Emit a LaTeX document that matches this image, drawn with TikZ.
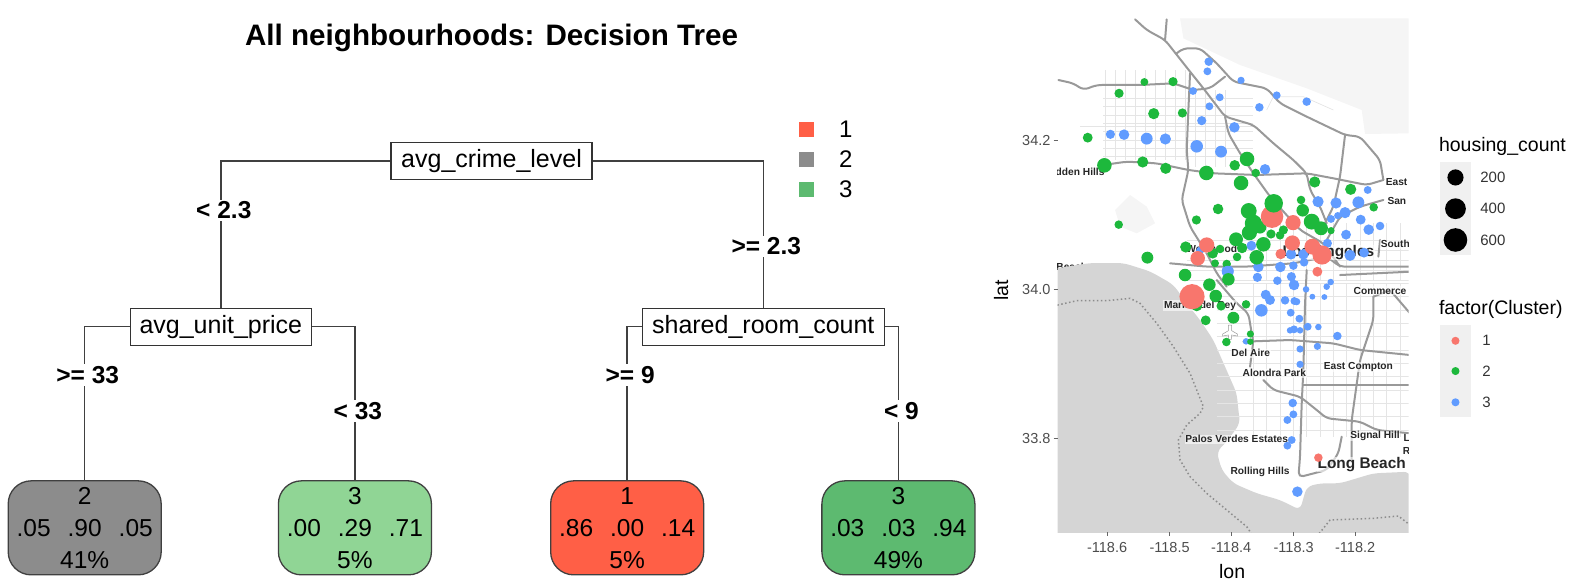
\documentclass[tikz,border=0pt]{standalone}
\usepackage{fontspec}
\setmainfont{Liberation Sans}
\definecolor{leafgrey}{HTML}{8C8C8C}
\definecolor{leaflight}{HTML}{90D595}
\definecolor{leafred}{HTML}{FF5F46}
\definecolor{leafgreen}{HTML}{5DBA70}
\definecolor{dotred}{HTML}{F8766D}
\definecolor{dotgreen}{HTML}{1DB83C}
\definecolor{dotblue}{HTML}{619CFF}
\definecolor{waterfill}{HTML}{D5D5D5}
\tikzset{
  splitbox/.style={rectangle, draw=black!80, line width=1.3pt, fill=white, font=\fontsize{25}{28}\selectfont, minimum height=37, inner sep=0, text height=18, text depth=5},
  leafbox/.style={rectangle, draw=black!75, line width=1.3pt, rounded corners=23, minimum width=153, minimum height=94, inner sep=0, align=center, font=\fontsize{24.5}{32}\selectfont},
  splitline/.style={draw=black!75, line width=1.4pt},
  splitlabel/.style={fill=white, inner sep=2, xshift=3, font=\fontsize{24.5}{26}\selectfont\bfseries},
  legendkey/.style={rectangle, minimum size=15, inner sep=0},
  legendtext/.style={font=\fontsize{24}{26}\selectfont, anchor=west, inner sep=0},
  road/.style={draw=black!40, line width=2pt, line join=round, line cap=round, rounded corners=5pt},
  street/.style={draw=black!10, line width=0.7pt},
  boundary/.style={draw=black!45, line width=1.5pt, dash pattern=on 1.5pt off 2.5pt},
  placename/.style={font=\fontsize{10.2}{11}\selectfont\bfseries, inner sep=0.6, text=black!85, fill=white, fill opacity=0.6, text opacity=1},
  axistext/.style={font=\fontsize{14.5}{15}\selectfont, text=black!70, inner sep=0},
  axistitle/.style={font=\fontsize{19.5}{21}\selectfont, inner sep=0},
  keytext/.style={font=\fontsize{15}{16}\selectfont, text=black!80, anchor=west, inner sep=0},
}
\newcommand{\mapdots}[2]{\foreach \dotx/\doty/\dotr in {#2} \fill[#1] (\dotx,\doty) circle ({\dotr+0.8});}
\begin{document}
\begin{tikzpicture}[x=1.00827pt, y=-1.00827pt]
  \useasboundingbox (0,0) rectangle (1568,580.2);

  % decision tree
  \node (title) [inner sep=0, font=\fontsize{29.6}{32}\selectfont\bfseries] at (487.5,38) {All neighbourhoods: Decision Tree};
  \node (root) [splitbox, minimum width=201] at (487.5,159.5) {avg\_crime\_level};
  \node (unit) [splitbox, minimum width=181] at (219,324) {avg\_unit\_price};
  \node (shared) [splitbox, minimum width=242] at (757,324) {shared\_room\_count};
  \node (leafa) [leafbox, fill=leafgrey] at (84,523.5) {2\\.05\hspace{17pt}.90\hspace{17pt}.05\\41\%};
  \node (leafb) [leafbox, fill=leaflight] at (352,523.5) {3\\.00\hspace{17pt}.29\hspace{17pt}.71\\5\%};
  \node (leafc) [leafbox, fill=leafred] at (622,523.5) {1\\.86\hspace{17pt}.00\hspace{17pt}.14\\5\%};
  \node (leafd) [leafbox, fill=leafgreen] at (891,523.5) {3\\.03\hspace{17pt}.03\hspace{17pt}.94\\49\%};

  \draw[splitline] (root.west) -| node [splitlabel, pos=0.669] {< 2.3} (unit.north);
  \draw[splitline] (root.east) -| node [splitlabel, pos=0.792] {>= 2.3} (shared.north);
  \draw[splitline] (unit.west) -| node [splitlabel, pos=0.657] {>= 33} (leafa.north);
  \draw[splitline] (unit.east) -| node [splitlabel, pos=0.775] {< 33} (leafb.north);
  \draw[splitline] (shared.west) -| node [splitlabel, pos=0.657] {>= 9} (leafc.north);
  \draw[splitline] (shared.east) -| node [splitlabel, pos=0.775] {< 9} (leafd.north);

  \node (keya) [legendkey, fill=leafred] at (800,128) {};
  \node (keyb) [legendkey, fill=leafgrey] at (800,158) {};
  \node (keyc) [legendkey, fill=leafgreen] at (800,188) {};
  \node (keyatext) [legendtext] at (832,128) {1};
  \node (keybtext) [legendtext] at (832,158) {2};
  \node (keyctext) [legendtext] at (832,188) {3};

  % map panel
  \begin{scope}
    \clip (1049,18) rectangle (1397,528);
    \begin{scope}[shift={(1031.5,9.92)}, x=0.3333pt, y=-0.3333pt]
      \fill[black!4] (420,25) -- (1110,25) -- (1110,370) -- (975,372) -- (965,300) -- (800,235) -- (600,165) -- (430,85) -- cycle;
      \fill[black!4] (270,555) -- (320,590) -- (345,640) -- (290,670) -- (240,650) -- (225,600) -- cycle;
      \foreach \sy in {265,290,...,440} \draw[street] (190,\sy) -- (640,\sy);
      \draw[street] (120,350) -- (640,350);
      \foreach \sx in {195,225,...,435} \draw[street] (\sx,180) -- (\sx,450);
      \foreach \sx in {465,495,...,555} \draw[street] (\sx,240) -- (\sx,470);
      \foreach \sy in {690,720,...,810} \draw[street] (440,\sy) -- (1110,\sy);
      \foreach \sx in {680,720,...,1100} \draw[street] (\sx,640) -- (\sx,810);
      \draw[street] (680,300) -- (700,260) -- (790,260) -- (880,300);
      \draw[road] (285,28) -- (320,60) -- (375,90) -- (450,185) -- (490,235) -- (555,320) -- (640,345) -- (700,400) -- (760,450) -- (800,490) -- (810,540) -- (840,590) -- (860,640);
      \draw[road] (380,28) -- (375,90);
      \draw[road] (450,190) -- (445,300) -- (440,420) -- (445,480) -- (425,570) -- (450,650) -- (500,730) -- (530,790) -- (560,830);
      \draw[road] (555,320) -- (565,370) -- (600,430) -- (640,490) -- (690,560) -- (780,660) -- (850,700) -- (900,770);
      \draw[road] (55,210) -- (100,220) -- (130,240) -- (170,225) -- (300,225) -- (400,220) -- (460,240) -- (510,235) -- (555,200);
      \draw[road] (410,130) -- (430,115) -- (480,115) -- (530,160) -- (580,215) -- (680,235) -- (720,280) -- (800,320) -- (915,375) -- (960,380) -- (1020,450) -- (1030,510);
      \draw[road] (190,465) -- (260,455) -- (350,460) -- (445,480) -- (520,490) -- (650,495) -- (800,490) -- (880,505) -- (980,525) -- (1030,510);
      \draw[road] (915,375) -- (900,500) -- (880,590) -- (850,650);
      \draw[road] (860,690) -- (900,620) -- (960,590) -- (1030,570);
      \draw[road] (390,760) -- (500,770) -- (620,770) -- (760,760) -- (860,740) -- (900,770) -- (1110,770);
      \draw[road] (1020,690) -- (1015,740);
      \node (dden) [placename] at (120,485) {dden Hills};
      \node (beach) [placename] at (95,770) {Beach};
      \node (east) [placename, anchor=west] at (1035,516) {East};
      \node (sani) [placename, anchor=west] at (1040,572) {San I};
      \node (south) [placename, anchor=west] at (1020,703) {South};
      \node (westwood) [placename] at (515,717) {Westwood};
      \node (losangeles) [placename, font=\fontsize{15.4}{16}\selectfont\bfseries] at (865,727) {Los Angeles};
      \mapdots{dotblue}{506/155/12,502/184/11,603/211/10,459/243/11,539/262/11,508/289/11,658/292/12,710/256/11,800/275/12,485/332/13,583/352/15,211/373/13,252/374/15,320/386/17,376/387/16,470/409/18,543/425/17,675/478/15,834/575/16,888/579/16,955/577/17,983/540/11,915/608/16,893/617/10,873/627/11,962/629/14,986/659/15,1020/648/12,918/674/14,862/700/13,930/736/16,972/728/14,634/707/14,480/722/11,753/733/15,790/733/15,792/757/12,655/771/15,721/771/15,760/767/12,563/783/17}
      \mapdots{dotgreen}{313/216/11,399/215/13,237/250/13,341/311/16,427/309/13,143/383/14,193/466/21,308/456/16,377/475/16,499/489/21,584/466/15,621/447/21,647/489/12,603/519/21,824/516/16,932/538/16,1001/592/12,783/570/12,788/601/18,534/597/15,626/603/23,469/630/13,236/644/12,815/635/23,843/655/20,873/662/10,730/660/13,720/676/12,640/640/25,660/652/18,628/668/22,693/672/13,588/688/20,606/714/15,670/703/21,437/711/16,540/717/12,518/730/15,591/741/12,650/742/21,322/743/17,525/760/11,560/762/12}
      \mapdots{dotred}{696/620/33,759/638/22,757/699/22,817/710/23,846/735/28,722/732/15,500/705/22,473/745/21}
      \mapdots{dotgreen}{701/580/27}
    \end{scope}
    \begin{scope}[shift={(1031.5,267.8)}, x=0.3333pt, y=-0.3333pt]
      \fill[waterfill, rounded corners=6pt] (55,-6) -- (150,-21) -- (250,-21) -- (330,4) -- (400,44) -- (440,100) -- (480,150) -- (520,210) -- (555,290) -- (590,370) -- (595,420) -- (600,460) -- (560,515) -- (530,545) -- (545,600) -- (580,640) -- (650,670) -- (720,690) -- (780,720) -- (800,650) -- (840,640) -- (900,640) -- (950,625) -- (1000,610) -- (1110,605) -- (1110,800) -- (40,800) -- (40,-6) -- cycle;
      \draw[boundary] (40,108) -- (110,92) -- (200,92) -- (270,85) -- (300,100) -- (350,160) -- (400,230) -- (450,310) -- (490,410) -- (480,430) -- (440,465) -- (415,510) -- (420,570) -- (450,620) -- (500,670) -- (560,720) -- (620,770) -- (640,800);
      \draw[boundary] (830,800) -- (870,750) -- (1000,745) -- (1075,738) -- (1110,765);
      \foreach \sx in {640,680,...,1080} \draw[street] (\sx,40) -- (\sx,500);
      \foreach \sy in {40,80,...,480} \draw[street] (530,\sy) -- (1110,\sy);
      \draw[road] (530,30) -- (590,100) -- (625,130) -- (635,190) -- (640,212) -- (630,290);
      \draw[road] (610,215) -- (750,210) -- (880,220) -- (960,240) -- (1110,255);
      \draw[road] (800,0) -- (795,100) -- (790,300) -- (785,400) -- (780,560) -- (775,622) -- (860,600) -- (895,550) -- (905,500);
      \draw[road] (1000,80) -- (1000,150) -- (960,270) -- (935,450) -- (935,570);
      \draw[road] (790,345) -- (1110,345);
      \draw[road] (670,330) -- (700,360) -- (780,380) -- (830,420) -- (860,445) -- (960,455) -- (1010,480) -- (1110,490);
      \draw[road] (1000,80) -- (1050,60) -- (1110,130);
      \draw[road] (900,15) -- (1110,5);
      \fill[white, draw=black!40, line width=0.5pt] (565,165) -- (575,165) -- (575,182) -- (592,192) -- (592,198) -- (575,195) -- (574,208) -- (566,208) -- (565,195) -- (548,198) -- (548,192) -- (565,182) -- cycle;
      \node (commerce) [placename] at (1020,62) {Commerce};
      \node (marina) [placename] at (480,107) {Marina del Rey};
      \node (delaire) [placename] at (632,250) {Del Aire};
      \node (alondra) [placename] at (703,310) {Alondra Park};
      \node (compton) [placename] at (955,291) {East Compton};
      \node (palos) [placename] at (590,508) {Palos Verdes Estates};
      \node (signal) [placename] at (1005,498) {Signal Hill};
      \node (lsmall) [placename, anchor=west] at (1088,503) {L};
      \node (rsmall) [placename, anchor=west] at (1086,542) {R};
      \node (longbeach) [placename, font=\fontsize{15.4}{16}\selectfont\bfseries] at (965,583) {Long Beach};
      \node (rolling) [placename] at (660,605) {Rolling Hills};
      \mapdots{dotblue}{563/5/17,652/22/13,754/20/13,712/32/12,762/45/15,872/36/9,860/50/9,798/58/9,817/80/8,853/81/8,677/74/14,690/90/14,735/91/12,763/93/11,770/95/10,664/121/18,752/128/11,778/146/11,803/170/11,835/171/9,750/181/9,762/178/11,780/181/9,892/198/12,618/214/9,832/229/10,780/237/10,780/283/10,758/399/12,760/433/11,742/450/11,755/510/11,742/527/11,772/665/15}
      \mapdots{dotgreen}{435/15/18,565/28/18,508/44/18,527/78/18,470/107/16,543/108/13,618/103/12,580/143/17,497/151/14,631/192/10,631/215/9,559/216/12}
      \mapdots{dotred}{456/80/37,832/5/14,835/563/12}
    \end{scope}
  \end{scope}

  % axes
  \foreach \tickx/\ticktext in {1098/-118.6,1160/-118.5,1221/-118.4,1283/-118.3,1344/-118.2}{
    \draw[black!60, line width=0.7pt] (\tickx,528) -- (\tickx,532);
    \node (x\tickx) [axistext] at (\tickx,543) {\ticktext};
  }
  \foreach \ticky/\ticktext in {139/34.2,287/34.0,435/33.8}{
    \draw[black!60, line width=0.7pt] (1045,\ticky) -- (1049,\ticky);
    \node (y\ticky) [axistext, anchor=east] at (1042,\ticky) {\ticktext};
  }
  \node (lat) [axistitle, rotate=90] at (993,288) {lat};
  \node (lon) [axistitle] at (1222,567) {lon};

  % map legends
  \node (housing) [axistitle, anchor=west] at (1427,145) {housing\_count};
  \fill[black!6] (1428,161) rectangle (1459,253);
  \foreach \keyy/\keyr/\keytxt in {176/8/200,207/10.3/400,238/11.7/600}{
    \fill[black] (1443.5,\keyy) circle (\keyr);
    \node (k\keytxt) [keytext] at (1468,\keyy) {\keytxt};
  }
  \node (cluster) [axistitle, anchor=west] at (1427,307) {factor(Cluster)};
  \fill[black!6] (1428,322) rectangle (1459,414);
  \foreach \keyy/\keyc/\keytxt in {338/dotred/1,368/dotgreen/2,399/dotblue/3}{
    \fill[\keyc] (1443.5,\keyy) circle (4);
    \node (c\keytxt) [keytext] at (1470,\keyy) {\keytxt};
  }
\end{tikzpicture}
\end{document}
